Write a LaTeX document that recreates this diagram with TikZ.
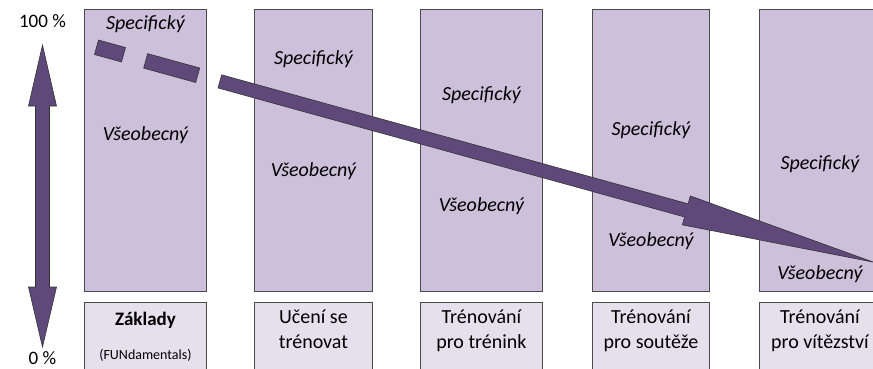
\documentclass[tikz,border=0pt]{standalone}
\usepackage{fontspec}
\setmainfont{Carlito}
\usepackage{tikz}
\usetikzlibrary{calc}

\definecolor{fialsvetla}{HTML}{CCC0DA}
\definecolor{fialbleda}{HTML}{E5E0EC}
\definecolor{fialtmava}{HTML}{5F497A}
\definecolor{ramecek}{HTML}{4A4A4A}

\tikzset{
  sloupec/.style={draw=ramecek, line width=0.9pt, fill=fialsvetla, anchor=north west, inner sep=0pt},
  faze/.style={draw=ramecek, line width=0.9pt, fill=fialbleda, anchor=north west, inner sep=0pt},
  popis/.style={font=\fontsize{20}{24}\selectfont\itshape, inner sep=0pt},
  nazev/.style={font=\fontsize{20}{25}\selectfont, align=center, inner sep=0pt},
  sipka/.style={draw=black!80, line width=0.6pt, fill=fialtmava},
}

\begin{document}
\begin{tikzpicture}[x=1pt, y=-1pt]
\useasboundingbox (0,0) rectangle (873,368);
\clip (0,0) rectangle (873,368);
% sloupce: horni cast (specificky/vseobecny) a dolni ramecek s fazi
\foreach \i/\xl/\xr in {1/84/206, 2/254/372, 3/420/542, 4/592/709, 5/759/880}{
  \node[sloupec, minimum width=\xr pt-\xl pt, minimum height=282pt] (sl\i) at (\xl,9) {};
  \node[faze, minimum width=\xr pt-\xl pt, minimum height=80pt] (faze\i) at (\xl,302) {};
}
% popisky v horni casti, posun o 35 dolu v kazdem sloupci
\foreach \i/\ys/\yv in {1/24/135, 2/59/171, 3/95/206, 4/130/241, 5/164/274}{
  \node[popis] (spec\i) at (sl\i.north |- 0,\ys) {Specifický};
  \node[popis] (vseob\i) at (sl\i.north |- 0,\yv) {Všeobecný};
}
% nazvy fazi
\node[nazev, font=\fontsize{19}{25}\selectfont\bfseries] (n1) at (faze1.north |- 0,320) {Základy};
\node[nazev, font=\fontsize{14}{16}\selectfont] (n1b) at (faze1.north |- 0,355) {(FUNdamentals)};
\node[nazev, anchor=north] (n2) at ($(faze2.north)+(0,7.5)$) {Učení se\\trénovat};
\node[nazev, anchor=north] (n3) at ($(faze3.north)+(0,7.5)$) {Trénování\\pro trénink};
\node[nazev, anchor=north] (n4) at ($(faze4.north)+(0,7.5)$) {Trénování\\pro soutěže};
\node[nazev, anchor=north] (n5) at ($(faze5.north)+(0,7.5)$) {Trénování\\pro vítězství};
% svisla osa 0-100 %
\node[font=\fontsize{19}{22}\selectfont, inner sep=0pt] (sto) at (42.5,21) {100 \%};
\node[font=\fontsize{19}{22}\selectfont, inner sep=0pt] (nula) at (42.5,358) {0 \%};
\draw[sipka] (42.5,45) -- (56.5,106) -- (49.5,106) -- (49.5,287) -- (56.5,287)
  -- (42.5,347) -- (28.5,287) -- (35.5,287) -- (35.5,106) -- (28.5,106) -- cycle;
% sikma sipka se dvema carkami na zacatku
\begin{scope}[shift={(110,51)}, rotate=-15.46]
  \draw[sipka] (-14,-7.5) rectangle (14,7.5);
  \draw[sipka] (37,-7.5) rectangle (91,7.5);
  \draw[sipka] (114,-6.8) -- (598,-6.8) -- (598,-15) -- (792,0) -- (598,15)
    -- (598,6.8) -- (114,6.8) -- cycle;
\end{scope}
\end{tikzpicture}
\end{document}
